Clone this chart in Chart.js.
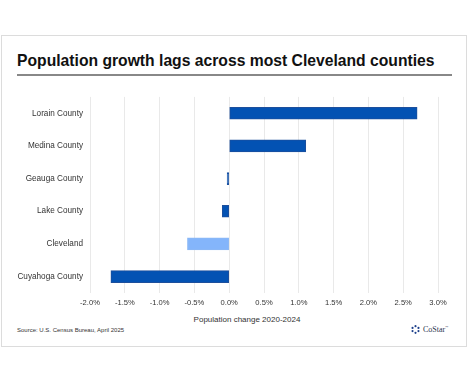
<!DOCTYPE html>
<html>
<head>
<meta charset="utf-8">
<script src="https://cdn.jsdelivr.net/npm/chart.js@4"></script>
<style>
    body { margin: 0; background: #fff; font-family: "Liberation Sans", Arial, sans-serif; }
    .card { position: absolute; left: 1px; top: 35px; width: 466px; height: 312px; border: 1px solid #dcdcdc; box-sizing: border-box; }
    .title { position: absolute; left: 17px; top: 52px; font-size: 15.7px; font-weight: bold; color: #111; white-space: nowrap; }
    .rule { position: absolute; left: 17px; top: 74px; width: 435px; height: 2px; background: #888; }
    .chartBox { position: absolute; left: 0; top: 85px; width: 470px; height: 227px; }
    .axisTitle { position: absolute; left: 247px; top: 315px; transform: translateX(-50%); font-size: 8px; color: #333; white-space: nowrap; }
    .source { position: absolute; left: 17px; top: 327px; font-size: 6px; color: #333; white-space: nowrap; }
    .logo { position: absolute; left: 411px; top: 325px; display: flex; align-items: center; }
    .logo span { font-family: "Liberation Serif", serif; font-size: 8px; color: #2a3450; margin-left: 3px; }
</style>
</head>
<body>
<div class="card"></div>
<div class="title">Population growth lags across most Cleveland counties</div>
<div class="rule"></div>
<div class="chartBox"><canvas id="chart"></canvas></div>
<div class="axisTitle">Population change 2020-2024</div>
<div class="source">Source: U.S. Census Bureau, April 2025</div>
<div class="logo">
    <svg width="9" height="9" viewBox="0 0 10 10">
        <circle cx="5" cy="1.3" r="1.2" fill="#1c3f8a"/>
        <circle cx="8.3" cy="3.2" r="1.2" fill="#1c3f8a"/>
        <circle cx="8.3" cy="6.8" r="1.2" fill="#1c3f8a"/>
        <circle cx="5" cy="8.7" r="1.2" fill="#1c3f8a"/>
        <circle cx="1.7" cy="6.8" r="1.2" fill="#1c3f8a"/>
        <circle cx="1.7" cy="3.2" r="1.2" fill="#1c3f8a"/>
    </svg>
    <span>CoStar<sup style="font-size:3px">™</sup></span>
</div>
<script>
const categories = ['Lorain County', 'Medina County', 'Geauga County', 'Lake County', 'Cleveland', 'Cuyahoga County'];
const changePct = [2.70, 1.10, -0.03, -0.10, -0.60, -1.70];
const highlight = [false, false, false, false, true, false];

const darkBlue = '#0352b3';
const lightBlue = '#84b5fb';

const ctx = document.getElementById('chart').getContext('2d');
new Chart(ctx, {
    type: 'bar',
    data: {
        labels: categories,
        datasets: [{
            data: changePct,
            backgroundColor: highlight.map(h => h ? lightBlue : darkBlue),
            borderColor: highlight.map(h => h ? '#8cb9f5' : '#1d4f9c'),
            borderWidth: 1,
            borderSkipped: false,
            barThickness: 12
        }]
    },
    options: {
        indexAxis: 'y',
        responsive: true,
        maintainAspectRatio: false,
        animation: false,
        layout: {
            padding: { left: 0, right: 32, top: 6, bottom: 0 }
        },
        scales: {
            x: {
                min: -2,
                max: 3,
                ticks: {
                    stepSize: 0.5,
                    padding: 5,
                    color: '#333',
                    font: { family: 'Liberation Sans', size: 7.6 },
                    callback: v => v.toFixed(1) + '%'
                },
                grid: { color: '#e9e9e9', lineWidth: 1, drawTicks: false },
                border: { display: false }
            },
            y: {
                afterFit: scale => { scale.width = 90; },
                ticks: {
                    padding: 7,
                    color: '#333',
                    font: { family: 'Liberation Sans', size: 8.2 }
                },
                grid: { display: false, drawTicks: false },
                border: { display: false }
            }
        },
        plugins: {
            legend: { display: false },
            tooltip: { enabled: false }
        }
    }
});
</script>
</body>
</html>
